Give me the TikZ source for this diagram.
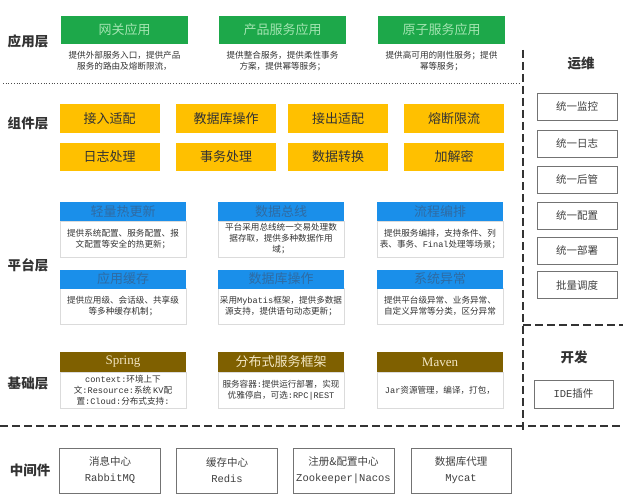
\documentclass[tikz,border=0pt]{standalone}
\usepackage{fontspec}
\setmainfont{Noto Sans CJK SC}
\newfontfamily\monof{Liberation Mono}
\newfontfamily\seriff{Liberation Serif}
\definecolor{appgreen}{HTML}{1DA84A}
\definecolor{greentext}{HTML}{A3E4B1}
\definecolor{compyellow}{HTML}{FFC000}
\definecolor{platblue}{HTML}{1A8FEA}
\definecolor{bluetext}{HTML}{2F6BA3}
\definecolor{basebrown}{HTML}{7F6000}
\definecolor{creamtext}{HTML}{F3E7C4}
\definecolor{inktext}{HTML}{333333}
\tikzset{
  layerlbl/.style={font=\fontsize{13.5}{15}\selectfont\bfseries, text=inktext, inner sep=0},
  gbox/.style={fill=appgreen, minimum width=127pt, minimum height=28pt, inner sep=0,
    font=\fontsize{13}{15}\selectfont, text=greentext},
  desc/.style={font=\fontsize{8.6}{11.5}\selectfont, align=center, text=inktext, inner sep=0},
  ybox/.style={fill=compyellow, minimum width=100pt, minimum height=28pt, inner sep=0,
    font=\fontsize{13}{15}\selectfont, text=inktext},
  bhead/.style={fill=platblue, minimum width=126pt, minimum height=19pt, inner sep=0,
    font=\fontsize{13}{15}\selectfont, text=bluetext},
  ohead/.style={fill=basebrown, minimum width=126pt, minimum height=20pt, inner sep=0,
    font=\fontsize{13}{15}\selectfont, text=creamtext},
  wbody/.style={draw=black!14, fill=white, minimum width=126pt, minimum height=36pt, inner sep=0,
    align=center, font=\fontsize{8.6}{11}\selectfont, text=inktext},
  obox/.style={draw=black!55, line width=0.8pt, fill=white, minimum width=80pt, minimum height=27pt,
    inner sep=0, font=\fontsize{10.5}{12}\selectfont, text=black!75},
  mbox/.style={draw=black!55, line width=0.8pt, fill=white, minimum width=101pt, minimum height=45pt,
    inner sep=0, align=center, font=\fontsize{10.5}{16}\selectfont, text=black!75},
  sepline/.style={dash pattern=on 8pt off 4pt, line width=1.2pt, draw=black!80},
  dotline/.style={dotted, line width=0.7pt, draw=black!70}
}
\begin{document}
\begin{tikzpicture}[x=1pt,y=-1pt]
\useasboundingbox[fill=white] (0,0) rectangle (623,500);

% separators
\coordinate (dotL) at (3,83);
\coordinate (dotR) at (520,83);
\draw[dotline] (dotL) -- (dotR);
\coordinate (vTop) at (523,50);
\coordinate (vBot) at (523,431);
\draw[sepline] (vTop) -- (vBot);
\coordinate (devL) at (523,325);
\coordinate (devR) at (623,325);
\draw[sepline] (devL) -- (devR);
\coordinate (midL) at (0,426);
\coordinate (midR) at (623,426);
\draw[sepline] (midL) -- (midR);

% layer labels
\node[layerlbl] (lApp) at (28,41) {应用层};
\node[layerlbl] (lComp) at (28,123) {组件层};
\node[layerlbl] (lPlat) at (28,265) {平台层};
\node[layerlbl] (lBase) at (28,383) {基础层};
\node[layerlbl] (lMid) at (30,470) {中间件};
\node[layerlbl] (lOps) at (581,63) {运维};
\node[layerlbl] (lDev) at (574,357) {开发};

% application layer
\node[gbox] (a1) at (124.5,30) {网关应用};
\node[gbox] (a2) at (282.5,30) {产品服务应用};
\node[gbox] (a3) at (441.5,30) {原子服务应用};
\node[desc] (d1) at (124.5,61) {提供外部服务入口，提供产品\\服务的路由及熔断限流，};
\node[desc] (d2) at (282.5,61) {提供整合服务，提供柔性事务\\方案，提供幂等服务；};
\node[desc] (d3) at (441.5,61) {提供高可用的刚性服务；提供\\幂等服务；};

% component layer
\node[ybox] (c1) at (109.5,118.5) {接入适配};
\node[ybox] (c2) at (226,118.5) {教据库操作};
\node[ybox] (c3) at (338,118.5) {接出适配};
\node[ybox] (c4) at (454,118.5) {熔断限流};
\node[ybox] (c5) at (109.5,157) {日志处理};
\node[ybox] (c6) at (226,157) {事务处理};
\node[ybox] (c7) at (338,157) {数据转换};
\node[ybox] (c8) at (454,157) {加解密};

% platform layer
\node[wbody] (p1b) at (123,239) {提供系统配置、服务配置、报\\文配置等安全的热更新；};
\node[bhead] (p1) at (123,211.5) {轻量热更新};
\node[wbody] (p2b) at (281,239) {平台采用总线统一交易处理数\\据存取，提供多种数据作用\\域；};
\node[bhead] (p2) at (281,211.5) {数据总线};
\node[wbody] (p3b) at (440,239) {提供服务编排，支持条件、列\\表、事务、{\monof Final}处理等场景；};
\node[bhead] (p3) at (440,211.5) {流程编排};
\node[wbody] (p4b) at (123,306) {提供应用级、会话级、共享级\\等多种缓存机制；};
\node[bhead] (p4) at (123,279) {应用缓存};
\node[wbody] (p5b) at (281,306) {采用{\monof Mybatis}框架，提供多数据\\源支持，提供语句动态更新；};
\node[bhead] (p5) at (281,279) {数据库操作};
\node[wbody] (p6b) at (440,306) {提供平台级异常、业务异常、\\自定义异常等分类，区分异常};
\node[bhead] (p6) at (440,279) {系统异常};

% base layer
\node[wbody] (b1b) at (123,390) {{\monof context:}环境上下\\文{\monof :Resource:}系统 {\monof KV}配\\置{\monof :Cloud:}分布式支持{\monof :}};
\node[ohead] (b1) at (123,362) {\seriff Spring};
\node[wbody] (b2b) at (281,390) {服务容器{\monof :}提供运行部署，实现\\优雅停启，可选{\monof :RPC|REST}};
\node[ohead] (b2) at (281,362) {分布式服务框架};
\node[wbody] (b3b) at (440,390) {{\monof Jar}资源管理，编译，打包，};
\node[ohead] (b3) at (440,362) {\seriff Maven};

% ops column
\node[obox] (o1) at (577,106.5) {统一监控};
\node[obox] (o2) at (577,143.5) {统一日志};
\node[obox] (o3) at (577,179.5) {统一后管};
\node[obox] (o4) at (577,215.5) {统一配置};
\node[obox] (o5) at (577,250.5) {统一部署};
\node[obox] (o6) at (577,285) {批量调度};

% dev
\node[obox, minimum width=79pt, minimum height=28pt] (dv) at (573.5,394) {{\monof IDE}插件};

% middleware
\node[mbox] (m1) at (110,470.5) {消息中心\\{\monof RabbitMQ}};
\node[mbox] (m2) at (227,470.5) {缓存中心\\{\monof Redis}};
\node[mbox] (m3) at (343.5,470.5) {注册\&配置中心\\{\monof Zookeeper|Nacos}};
\node[mbox, minimum width=100pt] (m4) at (461,470.5) {数据库代理\\{\monof Mycat}};
\end{tikzpicture}
\end{document}
